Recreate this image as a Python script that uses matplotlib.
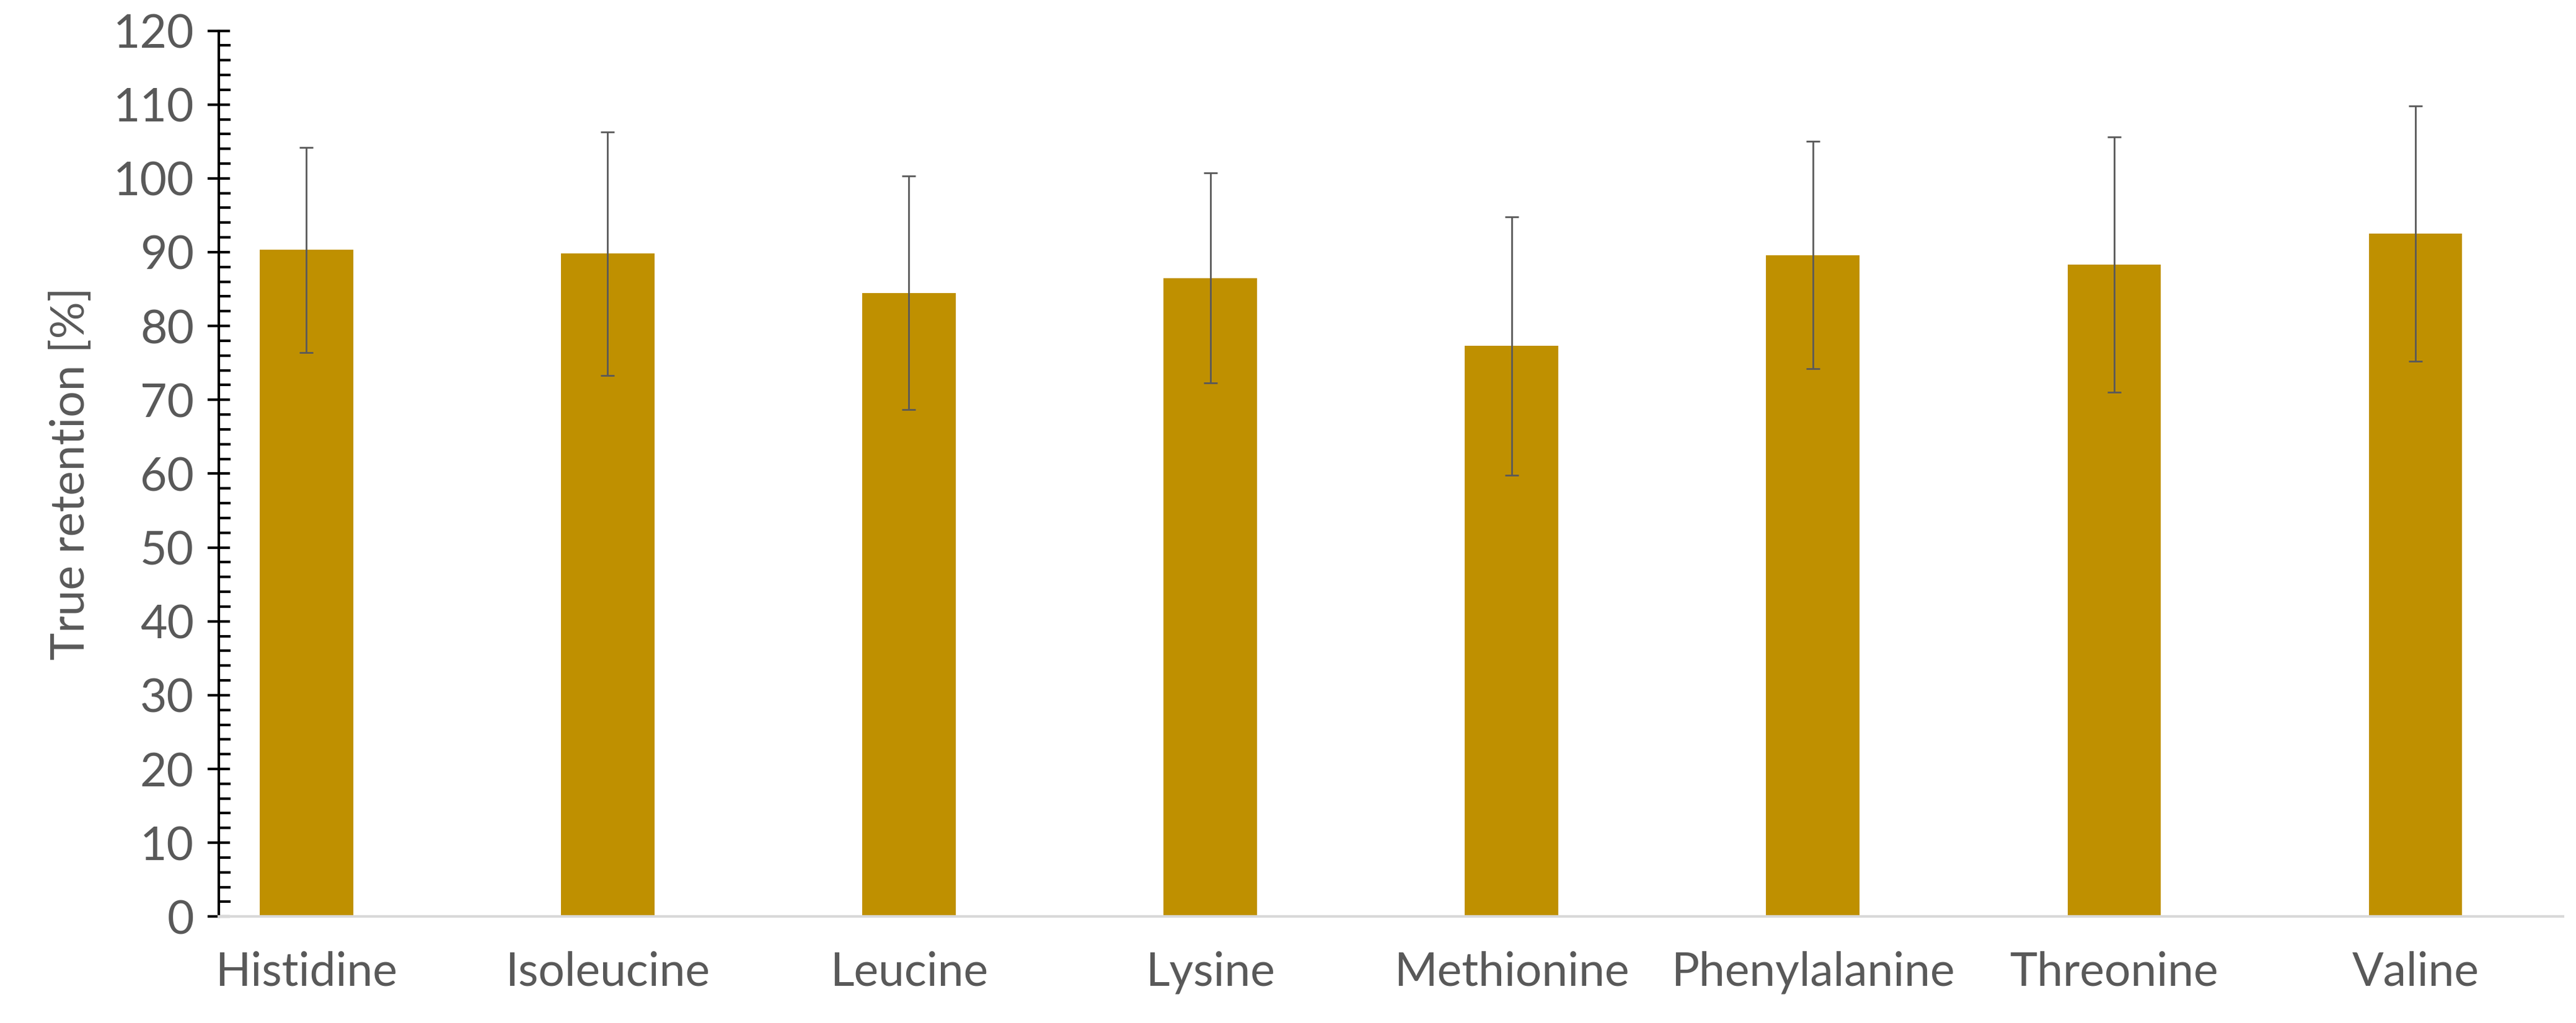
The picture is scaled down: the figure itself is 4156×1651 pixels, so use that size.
import matplotlib
matplotlib.use("Agg")
import matplotlib.pyplot as plt
from matplotlib.ticker import MultipleLocator

# --- Données ---
acides = ["Histidine", "Isoleucine", "Leucine", "Lysine", "Methionine",
          "Phenylalanine", "Threonine", "Valine"]
retention = [90.3, 89.8, 84.5, 86.5, 77.3, 89.6, 88.3, 92.5]
ecart = [13.9, 16.5, 15.8, 14.2, 17.5, 15.4, 17.3, 17.3]

plt.rcParams["font.family"] = ["Lato", "DejaVu Sans"]

fig = plt.figure(figsize=(41.56, 16.51), dpi=100)
ax = fig.add_axes([0.085, 0.104, 0.91, 0.866])

x = range(len(acides))
ax.bar(x, retention, width=0.31, color="#BF9000", zorder=2)
ax.errorbar(x, retention, yerr=ecart, fmt="none", ecolor="#595959",
            elinewidth=2, capsize=8, capthick=2, zorder=3)

ax.set_xlim(-0.29, len(acides) - 1 + 0.49)
ax.set_ylim(0, 120)
ax.yaxis.set_major_locator(MultipleLocator(10))
ax.yaxis.set_minor_locator(MultipleLocator(2))

ax.set_xticks(list(x))
ax.set_xticklabels(acides)
ax.tick_params(axis="x", length=0, pad=40, labelsize=54, labelcolor="#595959")
ax.tick_params(axis="y", which="major", direction="inout", length=26, width=3,
               labelsize=54, labelcolor="#595959", pad=16)
ax.tick_params(axis="y", which="minor", direction="in", length=14, width=3)

for s in ["top", "right"]:
    ax.spines[s].set_visible(False)
ax.spines["left"].set_linewidth(3)
ax.spines["bottom"].set_color("#D9D9D9")
ax.spines["bottom"].set_linewidth(3)

ax.set_ylabel("True retention [%]", fontsize=54, color="#595959", labelpad=24)

fig.savefig("out.png", dpi=100)
